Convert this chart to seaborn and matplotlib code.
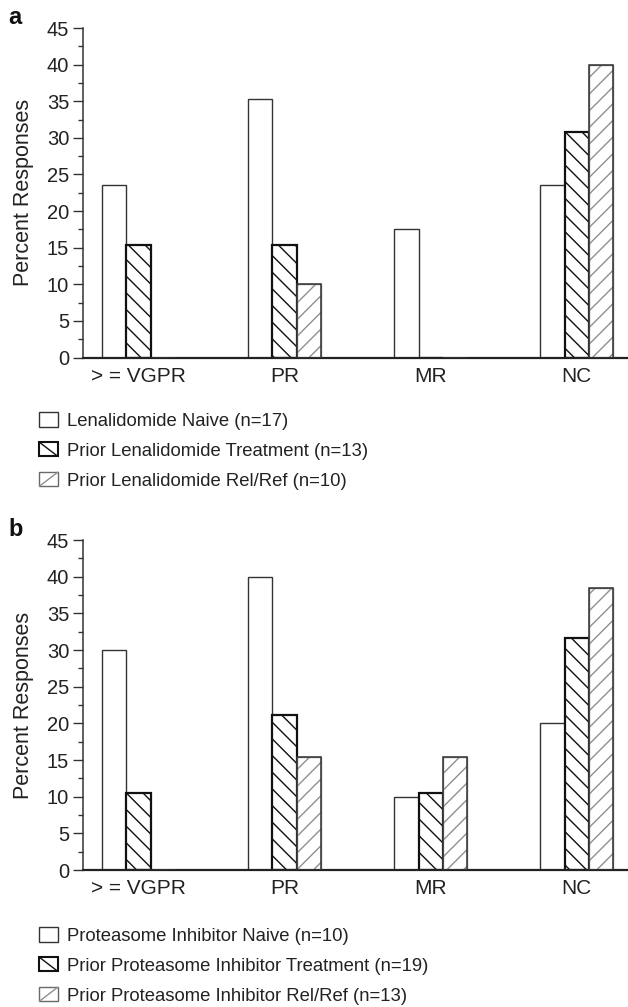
import matplotlib
matplotlib.use("Agg")
import matplotlib.pyplot as plt
from matplotlib.patches import Patch, Rectangle
from matplotlib.lines import Line2D
from matplotlib.legend_handler import HandlerBase
from matplotlib.ticker import MultipleLocator, AutoMinorLocator
import seaborn as sns
import pandas as pd

categories = ["> = VGPR", "PR", "MR", "NC"]

series_a = ["Lenalidomide Naive (n=17)",
            "Prior Lenalidomide Treatment (n=13)",
            "Prior Lenalidomide Rel/Ref (n=10)"]
naive_a = [23.5, 35.3, 17.6, 23.5]
treat_a = [15.4, 15.4, 0.0, 30.8]
relref_a = [0.0, 10.0, 0.0, 40.0]

series_b = ["Proteasome Inhibitor Naive (n=10)",
            "Prior Proteasome Inhibitor Treatment (n=19)",
            "Prior Proteasome Inhibitor Rel/Ref (n=13)"]
naive_b = [30.0, 40.0, 10.0, 20.0]
treat_b = [10.5, 21.1, 10.5, 31.6]
relref_b = [0.0, 15.4, 15.4, 38.5]

panel_labels = ["a", "b"]
y_label = "Percent Responses"

sns.set_theme(style="white")
plt.rcParams["font.family"] = ["Liberation Sans", "DejaVu Sans"]
plt.rcParams["hatch.linewidth"] = 1.0
TXT = "#222222"

fig = plt.figure(figsize=(6.28, 10.07), dpi=100)
W, H = 628, 1007


class DiagBoxHandler(HandlerBase):
    """Legend key: outlined box with an optional single diagonal line."""

    def __init__(self, edge, lw, diag=None, diag_color=None):
        super().__init__()
        self.edge, self.lw, self.diag, self.diag_color = edge, lw, diag, diag_color

    def create_artists(self, legend, orig_handle, xdescent, ydescent,
                       width, height, fontsize, trans):
        x0, y0 = -xdescent, -ydescent
        arts = []
        rect = Rectangle((x0, y0), width, height, facecolor="white",
                         edgecolor=self.edge, lw=self.lw, transform=trans)
        arts.append(rect)
        if self.diag == "down":
            arts.append(Line2D([x0, x0 + width], [y0 + height, y0],
                               color=self.diag_color, lw=1.0, transform=trans))
        elif self.diag == "up":
            arts.append(Line2D([x0, x0 + width], [y0, y0 + height],
                               color=self.diag_color, lw=1.0, transform=trans))
        return arts


def make_df(series, vals):
    rows = []
    for s, v in zip(series, vals):
        for c, y in zip(categories, v):
            rows.append({"cat": c, "series": s, "val": y})
    return pd.DataFrame(rows)


def draw_panel(top_px, bottom_px, series, vals, label, legend_top_px):
    ax = fig.add_axes([83 / W, 1 - bottom_px / H, 1 - 83 / W,
                       (bottom_px - top_px) / H])
    df = make_df(series, vals)
    sns.barplot(data=df, x="cat", y="val", hue="series", order=categories,
                hue_order=series, palette=["white"] * 3, width=0.5,
                saturation=1, legend=False, ax=ax, errorbar=None)
    styles = [dict(hatch="", ec="#333333", lw=1.0),
              dict(hatch="\\\\", ec="#111111", lw=1.6),
              dict(hatch="//", ec="#8f8f8f", lw=1.0)]
    for cont, st in zip(ax.containers, styles):
        for p in cont:
            p.set_facecolor("white")
            p.set_hatch(st["hatch"])
            p.set_edgecolor(st["ec"])
            p.set_linewidth(st["lw"])
    # dark outline over the gray-hatched bars
    for p in ax.containers[2]:
        ax.add_patch(Rectangle((p.get_x(), p.get_y()), p.get_width(),
                               p.get_height(), fill=False,
                               edgecolor="#333333", lw=1.1, zorder=3))
    ax.set_ylim(0, 45)
    ax.set_xlim(-0.38, 3.35)
    ax.yaxis.set_major_locator(MultipleLocator(5))
    ax.yaxis.set_minor_locator(AutoMinorLocator(2))
    for s in ["top", "right"]:
        ax.spines[s].set_visible(False)
    ax.spines["left"].set_color("#333333")
    ax.spines["left"].set_linewidth(1.1)
    ax.spines["bottom"].set_color("#222222")
    ax.spines["bottom"].set_linewidth(1.6)
    ax.tick_params(axis="y", which="major", direction="out", length=7,
                   width=1.0, color="#333333", labelsize=14.5, labelcolor=TXT,
                   left=True, pad=3)
    ax.tick_params(axis="y", which="minor", direction="out", length=3.5,
                   width=1.0, color="#333333", left=True)
    ax.tick_params(axis="x", which="both", length=0, labelsize=15,
                   labelcolor=TXT, pad=6.5)
    ax.set_xlabel("")
    ax.set_ylabel(y_label, fontsize=15.5, color=TXT)
    ax.yaxis.set_label_coords(-0.090, 0.5)
    ax.set_facecolor("white")
    fig.text(8 / W, 1 - (top_px - 11) / H, label, fontsize=17,
             fontweight="bold", color="#111111", va="center", ha="left")
    handles = [Patch(), Patch(), Patch()]
    hmap = {handles[0]: DiagBoxHandler("#333333", 1.0),
            handles[1]: DiagBoxHandler("#111111", 1.5, "down", "#111111"),
            handles[2]: DiagBoxHandler("#6a6a6a", 1.0, "up", "#8f8f8f")}
    leg = fig.legend(handles, series, loc="upper left",
                     bbox_to_anchor=(32 / W, 1 - legend_top_px / H),
                     frameon=False, fontsize=13.3, handlelength=1.0,
                     handleheight=0.8, handletextpad=0.5, labelspacing=0.67,
                     borderaxespad=0, handler_map=hmap)
    for t in leg.get_texts():
        t.set_color(TXT)
    return ax


draw_panel(28, 357.5, series_a, [naive_a, treat_a, relref_a],
           panel_labels[0], 405)
draw_panel(540, 870, series_b, [naive_b, treat_b, relref_b],
           panel_labels[1], 920)

fig.savefig("out.png", dpi=100, facecolor="white")
